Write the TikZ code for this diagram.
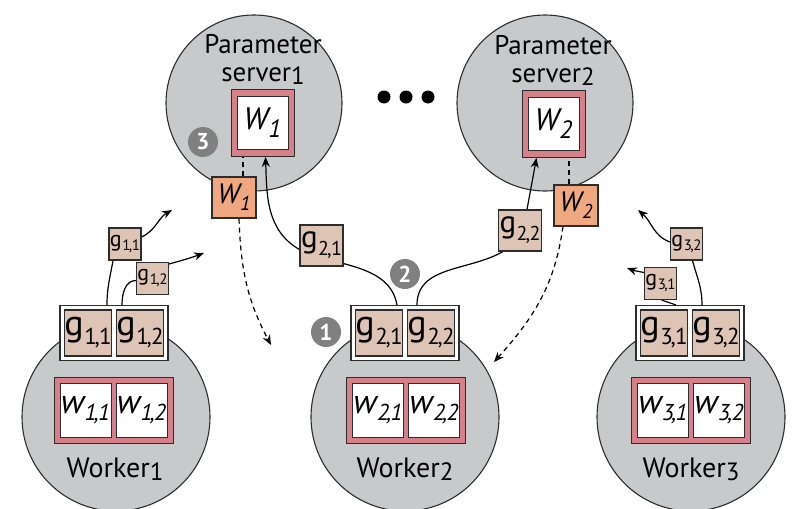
\documentclass[tikz,border=0pt]{standalone}
\usepackage{fontspec}
\setmainfont{PT Sans}
\usetikzlibrary{arrows.meta,calc}
\definecolor{disk}{RGB}{199,202,203}
\definecolor{grad}{RGB}{222,196,180}
\definecolor{wcopy}{RGB}{239,168,128}
\definecolor{wframe}{RGB}{216,128,138}
\definecolor{edge}{RGB}{45,45,45}
\definecolor{badgegray}{RGB}{128,128,128}
\pgfdeclarelayer{back}
\pgfdeclarelayer{mid}
\pgfsetlayers{back,mid,main}
% letter with a lowered index: size, index size, letter, index, lowering
\newcommand\lab[5]{{\fontsize{#1}{#1}\selectfont #3}\kern0.5pt\raisebox{#5}{\fontsize{#2}{#2}\selectfont #4}}
% tight index pair "a,b"
\newcommand\ix[2]{#1\kern-0.1em,\kern-0.03em#2}
\newcommand\fs[1]{\fontsize{#1}{#1}\selectfont}
\begin{document}
\begin{tikzpicture}[x=1pt,y=-1pt,
  machine/.style={circle,draw=edge,line width=1.1pt,fill=disk,minimum size=#1,inner sep=0},
  gpair/.style={draw=edge,fill=white,line width=1.1pt,minimum width=108pt,minimum height=55pt,inner sep=0},
  gcell/.style={draw=edge,fill=grad,line width=1.1pt,minimum width=47pt,minimum height=46pt,inner sep=0},
  wpair/.style={draw=edge,fill=wframe,line width=0.8pt,minimum width=119pt,minimum height=66pt,inner sep=0},
  wcell/.style={draw=edge,fill=white,line width=0.8pt,minimum width=51pt,minimum height=54pt,inner sep=0},
  psframe/.style={draw=edge,fill=wframe,line width=0.8pt,minimum width=63pt,minimum height=67pt,inner sep=0},
  pscell/.style={draw=edge,fill=white,line width=0.8pt,minimum width=51pt,minimum height=53pt,inner sep=0},
  wmsg/.style={draw=edge,fill=wcopy,line width=1.1pt,minimum width=44pt,minimum height=41pt,inner sep=0},
  gmsg/.style={draw=edge,fill=grad,line width=1.1pt,minimum width=43pt,minimum height=41pt,inner sep=0},
  gsmall/.style={draw=edge,fill=grad,line width=1.1pt,minimum width=32pt,minimum height=32pt,inner sep=0},
  badge/.style={circle,fill=badgegray,minimum size=30pt,inner sep=0,text=white,font=\fs{23}\bfseries},
  dotmark/.style={circle,fill=black,minimum size=13pt,inner sep=0},
  link/.style={line width=1.2pt,draw=black},
  push/.style={link,-{Stealth[length=10pt,width=8pt]}},
  pull/.style={link,dash pattern=on 5pt off 4pt,-{Stealth[length=10pt,width=8pt]}},
  title/.style={align=center,font=\fontsize{27}{28}\selectfont,inner sep=0}
]
\useasboundingbox (0,0) rectangle (793,509);

% machines
\begin{pgfonlayer}{back}
  \node[machine=176pt] (ps1) at (254,103) {};
  \node[machine=176pt] (ps2) at (545,103) {};
  \node[machine=188pt] (wk1) at (116,417) {};
  \node[machine=188pt] (wk2) at (405,417) {};
  \node[machine=188pt] (wk3) at (691,417) {};
\end{pgfonlayer}

% server titles and parameter blocks
\node[title] (ps1t) at (263,59) {Parameter\\server\raisebox{-3pt}{\fs{25}1}};
\node[title] (ps2t) at (553,60) {Parameter\\server\raisebox{-3pt}{\fs{25}2}};
\node[psframe] (ps1b) at (262.5,123) {};
\node[pscell] (ps1c) at (262.5,123) {\itshape\lab{31}{25}{W}{1}{-8pt}};
\node[psframe] (ps2b) at (553.5,124) {};
\node[pscell] (ps2c) at (553.5,124) {\itshape\lab{31}{25}{W}{2}{-8pt}};

\node[dotmark] (d1) at (384,97) {};
\node[dotmark] (d2) at (406,97) {};
\node[dotmark] (d3) at (428,97) {};

% worker titles
\node[font=\fs{28},inner sep=0] (wk1t) at (115,469) {Worker\raisebox{-3pt}{\fs{25}1}};
\node[font=\fs{28},inner sep=0] (wk2t) at (405,469) {Worker\raisebox{-3pt}{\fs{25}2}};
\node[font=\fs{28},inner sep=0] (wk3t) at (691,469) {Worker\raisebox{-3pt}{\fs{25}3}};

% worker parameter blocks
\foreach \k/\x in {1/113.5,2/406,3/691}{
  \node[wpair] (w\k w) at (\x,410) {};
  \node[wcell] (w\k w1) at ($(w\k w)+(-28,0)$) {\itshape\lab{34}{23}{w}{\ix{\k}{1}}{-7pt}};
  \node[wcell] (w\k w2) at ($(w\k w)+(28,0)$) {\itshape\lab{34}{23}{w}{\ix{\k}{2}}{-7pt}};
}
% worker gradient blocks
\foreach \k/\x in {1/114,2/405,3/690}{
  \node[gpair] (w\k g) at (\x,333) {};
  \node[gcell] (w\k g1) at ($(w\k g)+(-26,0)$) {\lab{36}{23}{g}{\ix{\k}{1}}{-9pt}};
  \node[gcell] (w\k g2) at ($(w\k g)+(26,0)$) {\lab{36}{23}{g}{\ix{\k}{2}}{-9pt}};
}

% parameter copies sent to workers
\node[wmsg] (m1) at (234,197.5) {\itshape\lab{28}{20}{W}{1}{-7pt}};
\node[wmsg] (m2) at (576,205.5) {\itshape\lab{28}{20}{W}{2}{-7pt}};

% gradients in transit
\node[gmsg] (g21) at (321.5,245.5) {\lab{31}{20}{g}{\ix{2}{1}}{-8pt}};
\node[gmsg] (g22) at (520,230.5) {\lab{31}{20}{g}{\ix{2}{2}}{-8pt}};
\node[gsmall] (g11) at (125,244) {\lab{22}{15}{g}{\ix{1}{1}}{-4pt}};
\node[gsmall] (g12) at (152.5,278.5) {\lab{22}{15}{g}{\ix{1}{2}}{-4pt}};
\node[gsmall] (g32) at (686.5,244) {\lab{22}{15}{g}{\ix{3}{2}}{-4pt}};
\node[gsmall] (g31) at (660.5,283.5) {\lab{22}{15}{g}{\ix{3}{1}}{-4pt}};

% step badges
\node[badge] (b3) at (203,142) {3};
\node[badge] (b1) at (326,332) {1};
\node[badge] (b2) at (405,274) {2};

% free arrow ends
\coordinate (t1) at (271,345);
\coordinate (t2) at (494,362);
\coordinate (t11) at (172,210);
\coordinate (t12) at (204,253);
\coordinate (t32) at (638,210);
\coordinate (t31) at (627,268);

\begin{pgfonlayer}{mid}
  % pulls of fresh parameters
  \draw[link,dash pattern=on 5pt off 4pt] ([xshift=9pt]m1.north) -- ([xshift=9pt]m1.north |- ps1b.south);
  \draw[pull] ([xshift=5pt]m1.south) to[out=-88,in=118] (t1);
  \draw[link,dash pattern=on 5pt off 4pt] ([xshift=-7pt]m2.north) -- ([xshift=-7pt]m2.north |- ps2b.south);
  \draw[pull] ([xshift=-13pt]m2.south) to[out=-98,in=48] (t2);
  % gradient pushes of worker 2
  \draw[link] ([xshift=-8pt]w2g.north) to[out=100,in=-15] ([yshift=3pt]g21.south east);
  \draw[push] ([yshift=-4pt]g21.west) to[out=150,in=-88] ([xshift=3pt]ps1b.south);
  \draw[link] ([xshift=12pt]w2g.north) to[out=90,in=-150] ([xshift=5pt]g22.south west);
  \draw[push] ([xshift=7pt]g22.north) -- ([xshift=-17pt]ps2b.south);
  % gradient pushes of worker 1
  \draw[link] ([xshift=-7pt]w1g.north) to[out=90,in=-100] ([xshift=-12pt]g11.south);
  \draw[push] ([yshift=7pt]g11.east) to[out=25,in=-150] (t11);
  \draw[link] ([xshift=8pt]w1g.north) to[out=90,in=180] ([yshift=-2pt]g12.west);
  \draw[push] ([yshift=-2pt]g12.north east) to[out=15,in=-160] (t12);
  % gradient pushes of worker 3
  \draw[link] ([xshift=12pt]w3g.north) to[out=90,in=-75] ([xshift=6pt]g32.south);
  \draw[push] ([yshift=2pt]g32.west) to[out=160,in=-40] (t32);
  \draw[link] ([xshift=-14pt]w3g.north) -- ([xshift=1pt]g31.south);
  \draw[push] ([yshift=11pt]g31.west) to[out=170,in=-20] (t31);
\end{pgfonlayer}
\end{tikzpicture}
\end{document}
